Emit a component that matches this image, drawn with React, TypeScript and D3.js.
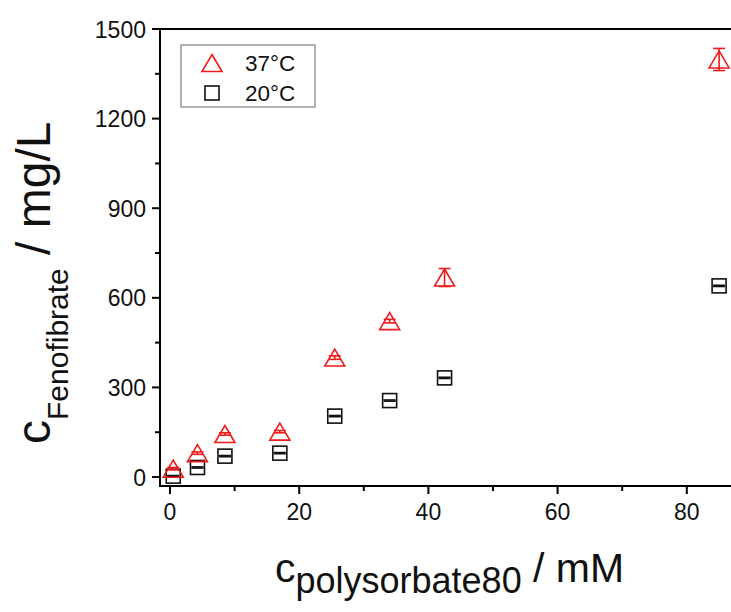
import React from "react";
import * as d3 from "d3";

const xVals = [0.5, 4.25, 8.5, 17, 25.5, 34, 42.5, 85];
const y37 = [28, 80, 144, 152, 400, 522, 668, 1398];
const err37 = [4, 4, 4, 4, 6, 6, 30, 37];
const y20 = [3, 32, 70, 80, 204, 256, 332, 640];
const err20 = [2, 2, 2, 2, 2, 2, 2, 2];
const xMajor = [0, 20, 40, 60, 80];
const xMinor = [10, 30, 50, 70, 90];
const yMajor = [0, 300, 600, 900, 1200, 1500];
const yMinor = [150, 450, 750, 1050, 1350];
const legendLabels = ["37°C", "20°C"];

const W = 731;
const H = 612;
const FONT = "'Liberation Sans', Arial, sans-serif";
const RED = "#f01a1a";

export default function App() {
  const x = d3.scaleLinear().domain([-1.55, 90]).range([160, 751.4]);
  const y = d3.scaleLinear().domain([-30, 1500]).range([486, 29]);
  const left = x.range()[0];
  const bottom = y.range()[0];
  const top = y.range()[1];

  const tri = (cx: number, cy: number) => {
    const w = 10, h = 8.5;
    return `M${cx},${cy - h}L${cx + w},${cy + h}L${cx - w},${cy + h}Z`;
  };

  const errBar = (cx: number, v: number, e: number, color: string, key: string) => {
    const y1 = y(v + e), y2 = y(v - e);
    return (
      <g key={key} stroke={color} strokeWidth={1.6}>
        <line x1={cx} x2={cx} y1={y1} y2={y2} />
        <line x1={cx - 6} x2={cx + 6} y1={y1} y2={y1} />
        <line x1={cx - 6} x2={cx + 6} y1={y2} y2={y2} />
      </g>
    );
  };

  return (
    <svg width={W} height={H} style={{ position: "absolute", left: 0, top: 0, background: "#fff" }}>
      <g stroke="#000" strokeWidth={2} fill="none">
        <line x1={left} x2={W + 10} y1={top} y2={top} />
        <line x1={left} x2={left} y1={top - 1} y2={bottom + 1} />
        <line x1={left - 1} x2={W + 10} y1={bottom} y2={bottom} />
      </g>
      <g stroke="#000" strokeWidth={2}>
        {xMajor.map((t) => (
          <line key={"xM" + t} x1={x(t)} x2={x(t)} y1={bottom} y2={bottom + 8} />
        ))}
        {xMinor.map((t) => (
          <line key={"xm" + t} x1={x(t)} x2={x(t)} y1={bottom} y2={bottom + 5} />
        ))}
        {yMajor.map((t) => (
          <line key={"yM" + t} x1={left} x2={left - 8} y1={y(t)} y2={y(t)} />
        ))}
        {yMinor.map((t) => (
          <line key={"ym" + t} x1={left} x2={left - 5} y1={y(t)} y2={y(t)} />
        ))}
      </g>
      <g fontFamily={FONT} fontSize={23} fill="#111">
        {xMajor.map((t) => (
          <text key={"xl" + t} x={x(t)} y={bottom + 34} textAnchor="middle">
            {t}
          </text>
        ))}
        {yMajor.map((t) => (
          <text key={"yl" + t} x={left - 14} y={y(t) + 8.5} textAnchor="end">
            {t}
          </text>
        ))}
      </g>
      <text x={275} y={582} fontFamily={FONT} fontSize={41} fill="#111">
        c
        <tspan fontSize={36} dy={11}>polysorbate80</tspan>
        <tspan dy={-11}> / mM</tspan>
      </text>
      <text
        transform="translate(50,444) rotate(-90)"
        fontFamily={FONT}
        fontSize={48}
        fill="#111"
      >
        c
        <tspan fontSize={30} dy={18}>Fenofibrate</tspan>
        <tspan dy={-18}> / mg/L</tspan>
      </text>
      <g>
        {xVals.map((xv, i) => errBar(x(xv), y20[i], err20[i], "#111", "e20" + i))}
        {xVals.map((xv, i) => (
          <rect
            key={"s" + i}
            x={x(xv) - 7}
            y={y(y20[i]) - 7}
            width={14}
            height={14}
            fill="none"
            stroke="#111"
            strokeWidth={1.6}
          />
        ))}
        {xVals.map((xv, i) => errBar(x(xv), y37[i], err37[i], RED, "e37" + i))}
        {xVals.map((xv, i) => (
          <path key={"t" + i} d={tri(x(xv), y(y37[i]))} fill="none" stroke={RED} strokeWidth={1.6} />
        ))}
      </g>
      <rect x={181} y={45} width={134} height={62} fill="#fff" stroke="#666" strokeWidth={1} />
      <path d={tri(212, 63)} fill="none" stroke={RED} strokeWidth={1.6} />
      <rect x={205} y={86} width={14} height={14} fill="none" stroke="#111" strokeWidth={1.6} />
      <g fontFamily={FONT} fontSize={22.5} fill="#111">
        <text x={245} y={71}>{legendLabels[0]}</text>
        <text x={245} y={101}>{legendLabels[1]}</text>
      </g>
    </svg>
  );
}
